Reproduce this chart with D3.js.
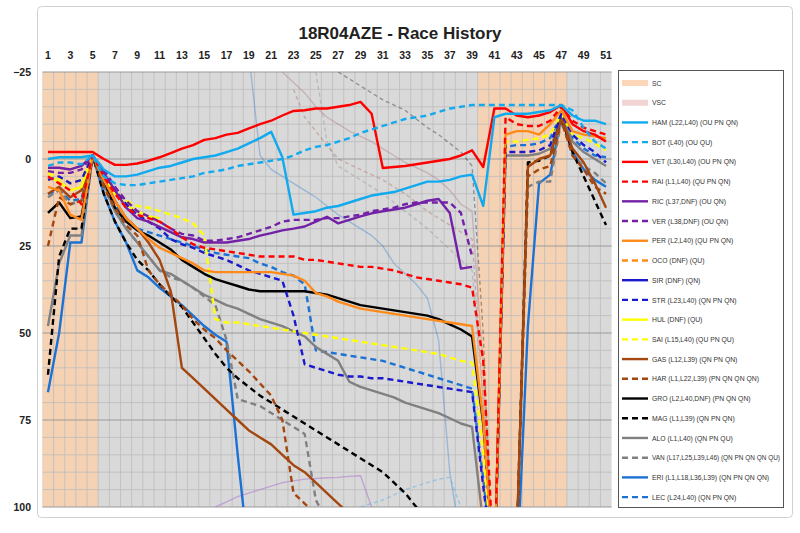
<!DOCTYPE html>
<html>
<head>
<meta charset="utf-8">
<script src="https://cdn.jsdelivr.net/npm/d3@7"></script>
<style>
  body { margin: 0; background: #fff; font-family: "Liberation Sans", Arial, sans-serif; }
</style>
</head>
<body>
<svg id="chart" width="800" height="533"></svg>
<script>
const laps = d3.range(1, 52)
const yTicks = [-25, 0, 25, 50, 75, 100]
const scPeriods = [[1, 5], [40, 47]]

// lap-by-lap values, index 0 = lap 1
const HAM = [0,-0.5,-0.5,-0.5,-1,3,5,5,4.5,3.5,2.5,2,1,0,-0.5,-1,-2,-3,-4.5,-6,-7.8,-0.5,16,15.5,15,14,13.5,12.5,11.5,10.5,10,9.5,8.5,7.5,6.5,6.5,6,5,4.5,13.5,-12,-13,-13,-13,-13.5,-14,-15.5,-12.5,-11,-11,-10]
const BOT = [2,1,1,1.5,-1,5,7,7.5,7.5,7,6.5,6,5.5,5,4,3.5,3,2,1.5,1,0.5,0,-1,-2.5,-3.5,-4,-5,-6,-7.5,-8.5,-9.5,-10.5,-11.5,-12,-12.5,-13.5,-14.5,-15,-15.5,-15.5,-15.5,-15.5,-15.5,-15.5,-15.5,-15.5,-15.5,-14,-9,-5,-3]
const VET = [-2,-2,-2,-2,-2,0,1.7,1.7,1.3,0.5,-0.5,-1.7,-3,-4,-5.5,-6,-7,-7.5,-8.8,-10,-11,-12.5,-13.8,-14,-14.5,-14.5,-15,-15.5,-16.4,-13,2.6,2.3,2,1.5,1,0.5,0,-1,-2.5,2.3,-14.5,-14.5,-12.5,-12,-12.5,-13.5,-15.5,-10,-8,-7,-5]
const RAI = [5,7,9,13,-1,5,10,14,16,17,18,20,22.5,24.5,25.5,26,26.5,27,27.5,28,28,28,28,29,29,29.5,30,30.5,31,31,31.5,32,33,34,34.5,35,35.5,36,37,58,120,-12,-10,-9.5,-9.5,-11,-15,-11,-9,-8,-7]
const RIC = [2.5,2.5,3,2,-1,4,9,14,17,18,19.5,21,22.5,23,24,24,24,23.5,23,22,21.3,20.5,20,19.4,18,16.6,18.5,17.5,16.5,15.6,15,14.5,14,13,12,11.5,15.5,31.5,31]
const VER = [3.5,4,4,3,-1,3,8,12,15,16.5,18,20,21.5,22,23.5,23.5,23,22.5,21.5,20.5,19.5,18,17.5,17.5,17.5,17,17,16.5,16,15,14.5,14,13,12.5,12.5,12.5,12.5,15.5,28]
const PER = [8,9,16,17.5,-1,6,12,17,20,23,25.5,27,28.5,30,32,32.5,32.5,32.5,32.5,32.5,32.5,33,33.5,35,38.5,39.5,41,42,43,43.5,44,44.5,45,45.5,46,46.5,47,47.5,48,75,120,-7,-8,-8,-7,-10,-14,-8,-7,-6.5,-6]
const OCO = []
const SIR = []
const STR = [6,5,7,6,-1,4,9,13,16,18,20,23,24.5,25.5,27,28,29,30.5,32,33,34,35,45,59,60,61,62,62.5,62.5,63,63,63.5,64,64.5,65,65.5,66,66.5,67,94,120,-2,-2,-2,-2.5,-4,-13,-7,-4,-2,1]
const HUL = [5,6.5,9,8,-1,5,10,13,15,16.5,17]
const SAI = [4,5.5,7,6,-1,4,9,12,13.5,14,15,16,17,18.5,22,46,47,47,47.5,48,48.5,49,49.5,50,50.5,51,51.5,52,52.5,53,53.5,54,54.5,55,55.5,56,57,58,58.5,84,120,-5,-5,-5.5,-6,-7,-13,-7,-6,-4.5,-2.5]
const GAS = [10,8,11,9,-1,5,12,17,20,24,29,38,60,63,66,69,72,75,78,80,82,85,88,90,93,96,99,102,106,110,114,118,122,126,130,134,138,142,146,150,150,150,110,2.3,0,-1,-12,-3,1,7,14]
const HAR = [25,11,13,12,-1,8,14,19,22,32,36,39,42,46,49,51.5,55,58,61,64.5,68,75,96,99,102,106,110,114,118,122,126,130,134,138,142,146,150,150,150,150,150,150,110,5,3,2,-11,-1,3,8,10]
const GRO = [15.5,12.5,17,16.5,-1,6,14,18,20.5,22,24,26,29,31,33,34.5,35.5,36.5,37.5,38,38,38,38,38,38.5,39,40,41,42,42.5,43,43.5,44,44.5,45,46,47.5,49,51,76,120,-5]
const MAG = [62,28,20,20,-1,10,18,24,29,32,36,39.5,42.5,47,51.5,56,60,63,65.5,68,70,72,74,76,78,80,82,84,86,88,90,93,96,100,104,108,112,116,120,130,140,140,110,1,0.5,-1,-12,-2,5,12,19]
const ALO = [48,30,22,22,-1,7,15,20,24,28,32,33,35,37,39,40.5,42,43,44.5,46,47,48,49.5,51,54,56,58,64,65.5,66.5,67.5,68.5,70,71,72,73,74.5,76,77,105,120,-1,-1,-1,-1.5,-3,-12,-5,-2,0,2]
const VAN = [11,9,13,12,-1,8,15,20,24,28,32,34,35,37,39.5,42,52,69,70,71,73,75,77,79,98,104,110,116,122,128,134,140,146,150,150,150,150,150,150,150,150,150,110,8,6.5,6.5,-11,-1,2,4,7]
const ERI = [67,50,24,24,-1,10,18,24,32,34,37,39.5,42,45,48,50.5,52.5,85,115,130,140,150,150,150,150,150,150,150,150,150,150,150,150,150,150,150,150,150,150,150,150,150,120,48,7,4.5,-12,-2,3,6,8]
const LEC = [10,9,12,11.5,-1,6,13,17,20,21,22,23,24,25,26,27,27.5,28,28.5,30,31,32.5,33.5,36,55,55.5,56,56.5,57,57.5,58,59,60,61,62,63,64,65,66,92,120,-3.5,-4,-4,-4.5,-6,-13,-6,-3,-1,-0.5]

// faint background traces: [first lap, values...]
const ghostBlue = [19, -30,-1,3,5,7,9,11,13.5,16,18,20,22,25,30,33,36,40,52,90,110]
const ghostPink = [22, -25,-22,-19,-15,-12,-10,-8,-6.5,-5,-3,-1,1,2.5,4,6,9,13,15,60,130]
const ghostGreyDash = [27, -25,-23,-21,-19,-17,-15.5,-14,-11.5,-9,-7,-4.5,-2,2,50,130]
const ghostBrownDash = [23, -20,-12,-8,-4,0,1.5,3,4.5,6,8,10,12.5,15,17,19,21,23,70,130]
const ghostLightDash = [25, -25,-5,2,4,6,8,10,12.5,15,17.5,20,23,26,29,32,70,130]
const ghostLilac = [16, 100,98.5,97,96,95,94,93,92.5,92,91.8,91.6,91.5,91.2,91,100]
const ghostSky = [29, 100,99,98,96.5,95,94,93,92,91.5,100]

const drivers = [
  { name: 'HAM (L22,L40) (OU PN QN)', data: HAM, color: '#12aaef', dash: false },
  { name: 'BOT (L40) (OU QU)', data: BOT, color: '#12aaef', dash: true },
  { name: 'VET (L30,L40) (OU PN QN)', data: VET, color: '#ff0000', dash: false },
  { name: 'RAI (L1,L40) (QU PN QN)', data: RAI, color: '#ff0000', dash: true },
  { name: 'RIC (L37,DNF) (OU QN)', data: RIC, color: '#7321a6', dash: false },
  { name: 'VER (L38,DNF) (OU QN)', data: VER, color: '#7321a6', dash: true },
  { name: 'PER (L2,L40) (QU PN QN)', data: PER, color: '#ff8a1a', dash: false },
  { name: 'OCO (DNF) (QU)', data: OCO, color: '#ff8a1a', dash: true },
  { name: 'SIR (DNF) (QN)', data: SIR, color: '#1a1acc', dash: false },
  { name: 'STR (L23,L40) (QN PN QN)', data: STR, color: '#1a1acc', dash: true },
  { name: 'HUL (DNF) (QU)', data: HUL, color: '#ffff00', dash: false },
  { name: 'SAI (L15,L40) (QU PN QU)', data: SAI, color: '#ffff00', dash: true },
  { name: 'GAS (L12,L39) (QN PN QN)', data: GAS, color: '#a3460f', dash: false },
  { name: 'HAR (L1,L22,L39) (PN QN QN QN)', data: HAR, color: '#a3460f', dash: true },
  { name: 'GRO (L2,L40,DNF) (PN QN QN)', data: GRO, color: '#000000', dash: false },
  { name: 'MAG (L1,L39) (QN PN QN)', data: MAG, color: '#000000', dash: true },
  { name: 'ALO (L1,L40) (QN PN QU)', data: ALO, color: '#808080', dash: false },
  { name: 'VAN (L17,L25,L39,L46) (QN PN QN QN QU)', data: VAN, color: '#808080', dash: true },
  { name: 'ERI (L1,L18,L36,L39) (QN PN QN QN)', data: ERI, color: '#1c72d4', dash: false },
  { name: 'LEC (L24,L40) (QN PN QN)', data: LEC, color: '#1c72d4', dash: true },
]

const ghosts = [
  { data: ghostBlue, color: 'rgba(40,120,210,0.35)', dash: false },
  { data: ghostPink, color: 'rgba(170,110,110,0.35)', dash: false },
  { data: ghostGreyDash, color: 'rgba(60,60,60,0.45)', dash: true },
  { data: ghostBrownDash, color: 'rgba(160,90,70,0.35)', dash: true },
  { data: ghostLightDash, color: 'rgba(120,120,120,0.3)', dash: true },
  { data: ghostLilac, color: 'rgba(170,110,210,0.5)', dash: false },
  { data: ghostSky, color: 'rgba(90,180,230,0.5)', dash: true },
]

const svg = d3.select('#chart')

// outer frame
svg.append('rect')
  .attr('x', 37.5).attr('y', 6.5).attr('width', 755).attr('height', 511)
  .attr('fill', '#fff').attr('stroke', '#d0d0d0').attr('rx', 4)

svg.append('text')
  .attr('x', 400).attr('y', 39)
  .attr('text-anchor', 'middle')
  .attr('font-size', 17).attr('font-weight', 'bold').attr('fill', '#222')
  .text('18R04AZE - Race History')

const xScale = d3.scaleBand().domain(laps).range([42.4, 611.6])
const bw = xScale.bandwidth()
const xc = l => xScale(l) + bw / 2
const yScale = d3.scaleLinear().domain([-25, 100]).range([72, 507])

// plot background
svg.append('rect')
  .attr('x', 42.4).attr('y', 72).attr('width', 611.6 - 42.4).attr('height', 435)
  .attr('fill', '#d9d9d9')

svg.append('g')
  .selectAll('rect')
  .data(scPeriods)
  .enter()
  .append('rect')
  .attr('x', d => xScale(d[0]))
  .attr('y', 72)
  .attr('width', d => xScale(d[1]) + bw - xScale(d[0]))
  .attr('height', 435)
  .attr('fill', '#f6d2b4')

// grid
const grid = svg.append('g')
grid.selectAll('.vg')
  .data(laps.slice(1))
  .enter()
  .append('line')
  .attr('x1', d => xScale(d)).attr('x2', d => xScale(d))
  .attr('y1', 72).attr('y2', 507)
  .attr('stroke', '#bdbdbd').attr('stroke-width', 0.8)
grid.selectAll('.hg')
  .data(d3.range(-25, 101, 5))
  .enter()
  .append('line')
  .attr('x1', 42.4).attr('x2', 611.6)
  .attr('y1', d => yScale(d)).attr('y2', d => yScale(d))
  .attr('stroke', d => d % 25 === 0 ? '#9a9a9a' : '#bdbdbd')
  .attr('stroke-width', d => d % 25 === 0 ? 1.2 : 0.8)

svg.append('defs').append('clipPath').attr('id', 'clip')
  .append('rect').attr('x', 42.4).attr('y', 72).attr('width', 611.6 - 42.4).attr('height', 435)

const line = d3.line()
  .defined(d => d[1] != null)
  .x(d => xc(d[0]))
  .y(d => yScale(d[1]))

const plot = svg.append('g').attr('clip-path', 'url(#clip)')

plot.selectAll('.ghost')
  .data(ghosts)
  .enter()
  .append('path')
  .attr('fill', 'none')
  .attr('stroke', d => d.color)
  .attr('stroke-width', 1.4)
  .attr('stroke-dasharray', d => d.dash ? '4,3' : null)
  .attr('d', d => line(d.data.slice(1).map((v, i) => [d.data[0] + i, v])))

plot.selectAll('.drv')
  .data(drivers.slice().reverse())
  .enter()
  .append('path')
  .attr('fill', 'none')
  .attr('stroke', d => d.color)
  .attr('stroke-width', 2.4)
  .attr('stroke-linejoin', 'round')
  .attr('stroke-dasharray', d => d.dash ? '6,4' : null)
  .attr('d', d => line(d.data.map((v, i) => [laps[i], v])))

// axes
const xAxis = d3.axisTop(xScale)
  .tickValues(laps.filter(l => l % 2 === 1))
  .tickSize(0)
svg.append('g')
  .attr('transform', 'translate(0,62)')
  .call(xAxis)
  .call(g => g.select('.domain').remove())
  .selectAll('text')
  .attr('font-size', 10.5).attr('font-weight', 'bold').attr('fill', '#222')
  .attr('font-family', '"Liberation Sans", Arial, sans-serif')

const yAxis = d3.axisLeft(yScale).tickValues(yTicks).tickSize(0)
svg.append('g')
  .attr('transform', 'translate(34,0)')
  .call(yAxis)
  .call(g => g.select('.domain').remove())
  .selectAll('text')
  .attr('font-size', 10.5).attr('font-weight', 'bold').attr('fill', '#222')
  .attr('font-family', '"Liberation Sans", Arial, sans-serif')

// legend
const legendItems = [
  { name: 'SC', color: '#fbd6b9', width: 6 },
  { name: 'VSC', color: '#f3d4d4', width: 6 },
  ...drivers.map(d => ({ name: d.name, color: d.color, dash: d.dash, width: 2.4 }))
]
const legend = svg.append('g')
legend.append('rect')
  .attr('x', 618.5).attr('y', 70.5).attr('width', 165).attr('height', 437)
  .attr('fill', '#fff').attr('stroke', '#555').attr('stroke-width', 1)

const entry = legend.selectAll('.entry')
  .data(legendItems)
  .enter()
  .append('g')
  .attr('transform', (d, i) => `translate(622,${83 + i * 19.72})`)
entry.append('line')
  .attr('x1', 0).attr('x2', 26).attr('y1', 0).attr('y2', 0)
  .attr('stroke', d => d.color)
  .attr('stroke-width', d => d.width)
  .attr('stroke-dasharray', d => d.dash ? '6,4' : null)
entry.append('text')
  .attr('x', 30).attr('y', 2.6)
  .attr('font-size', 6.8).attr('fill', '#333')
  .text(d => d.name)
  .each(function () {
    // squeeze long labels so they stay inside the box
    if (this.getComputedTextLength() > 128) {
      d3.select(this).attr('textLength', 128).attr('lengthAdjust', 'spacingAndGlyphs')
    }
  })
</script>
</body>
</html>
